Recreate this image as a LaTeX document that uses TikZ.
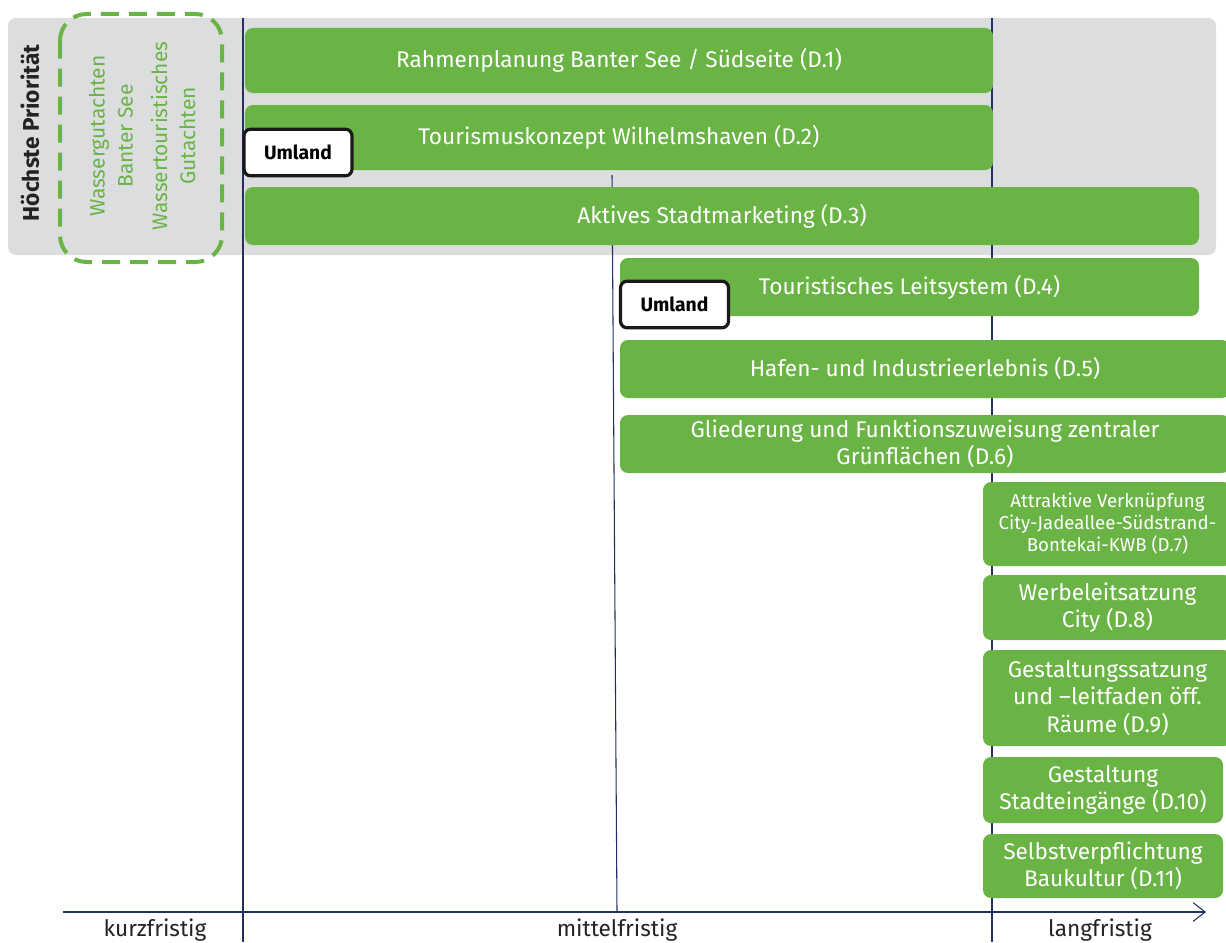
\documentclass[tikz,border=0pt]{standalone}
\usepackage{fontspec}
\setmainfont{Fira Sans}
\usetikzlibrary{arrows.meta}
\definecolor{planGreen}{RGB}{106,180,69}
\definecolor{planGrey}{RGB}{220,221,223}
\definecolor{axisNavy}{RGB}{36,48,98}
\definecolor{labelInk}{RGB}{35,35,35}
\newcommand{\Massnahme}[7][]{%
  \node[massnahme,minimum width={(#5-#3)*0.75pt},minimum height={(#6-#4)*0.75pt},#1]
    (#2) at ({(#3+#5)/2},{(#4+#6)/2}) {#7};}

\begin{document}
\begin{tikzpicture}[x=0.75pt,y=-0.75pt,
  massnahme/.style={rounded corners=6pt,fill=planGreen,text=white,align=center,inner sep=0pt,
    font=\fontsize{17}{20.6}\selectfont},
  umland/.style={rounded corners=5pt,draw=black!90,line width=2.4pt,fill=white,
    minimum width=81pt,minimum height=35pt,inner sep=0pt,font=\bfseries\fontsize{14.5}{14.5}\selectfont},
  zeitachse/.style={axisNavy,line width=0.8pt},
  stufe/.style={text=labelInk,font=\fontsize{17}{17}\selectfont}]
\useasboundingbox (0,0) rectangle (1226,942);
\clip (0,0) rectangle (1226,942);

% Prioritaet
\fill[planGrey,rounded corners=6pt] (8,18) rectangle (1216,255);
\draw[planGreen,line width=3pt,dash pattern=on 13.5pt off 7.5pt,rounded corners=20pt] (60,14) rectangle (222,262);
\node[rotate=90,text=labelInk,font=\bfseries\fontsize{17}{17}\selectfont] (prio) at (30,133) {Höchste Priorität};
\node[rotate=90,text=planGreen,align=center,font=\fontsize{15.7}{21}\selectfont] (wasser) at (111,136) {Wassergutachten\\Banter See};
\node[rotate=90,text=planGreen,align=center,font=\fontsize{15.7}{21}\selectfont] (touri) at (173,136) {Wassertouristisches\\Gutachten};

% Zeitachse
\coordinate (kurzOben) at (243,18);
\coordinate (kurzUnten) at (243,942);
\coordinate (mittelOben) at (612,175);
\coordinate (mittelUnten) at (617,912);
\coordinate (langOben) at (992,18);
\coordinate (langUnten) at (992,942);
\coordinate (achseStart) at (63,912);
\coordinate (achseEnde) at (1206,912);
\draw[zeitachse] (kurzOben) -- (kurzUnten);
\draw[zeitachse] (mittelOben) -- (mittelUnten);
\draw[zeitachse] (langOben) -- (langUnten);
\draw[zeitachse,-{Straight Barb[length=9pt,width=14pt]}] (achseStart) -- (achseEnde);
\node[stufe] (kurz) at (155,930) {kurzfristig};
\node[stufe] (mittel) at (617,930) {mittelfristig};
\node[stufe] (lang) at (1100,930) {langfristig};

% Massnahmen
\Massnahme{d1}{245}{28}{993}{93}{Rahmenplanung Banter See / Südseite (D.1)}
\Massnahme{d2}{245}{105}{993}{170}{Tourismuskonzept Wilhelmshaven (D.2)}
\Massnahme{d3}{245}{187}{1199}{245}{Aktives Stadtmarketing (D.3)}
\Massnahme{d4}{620}{258}{1199}{316}{Touristisches Leitsystem (D.4)}
\Massnahme{d5}{620}{340}{1230}{398}{Hafen- und Industrieerlebnis (D.5)}
\Massnahme{d6}{620}{415}{1230}{473}{Gliederung und Funktionszuweisung zentraler\\Grünflächen (D.6)}
\Massnahme[font=\fontsize{14}{16.5}\selectfont]{d7}{983}{482}{1232}{566}{Attraktive Verknüpfung\\City-Jadeallee-Südstrand-\\Bontekai-KWB (D.7)}
\Massnahme{d8}{983}{575}{1232}{640}{Werbeleitsatzung\\City (D.8)}
\Massnahme{d9}{983}{650}{1232}{746}{Gestaltungssatzung\\und –leitfaden öff.\\Räume (D.9)}
\Massnahme{d10}{983}{757}{1223}{823}{Gestaltung\\Stadteingänge (D.10)}
\Massnahme{d11}{983}{834}{1223}{898}{Selbstverpflichtung\\Baukultur (D.11)}

% Umland
\node[umland] (umlandA) at (298,152.5) {Umland};
\node[umland] (umlandB) at (674.5,304.5) {Umland};
\end{tikzpicture}
\end{document}
